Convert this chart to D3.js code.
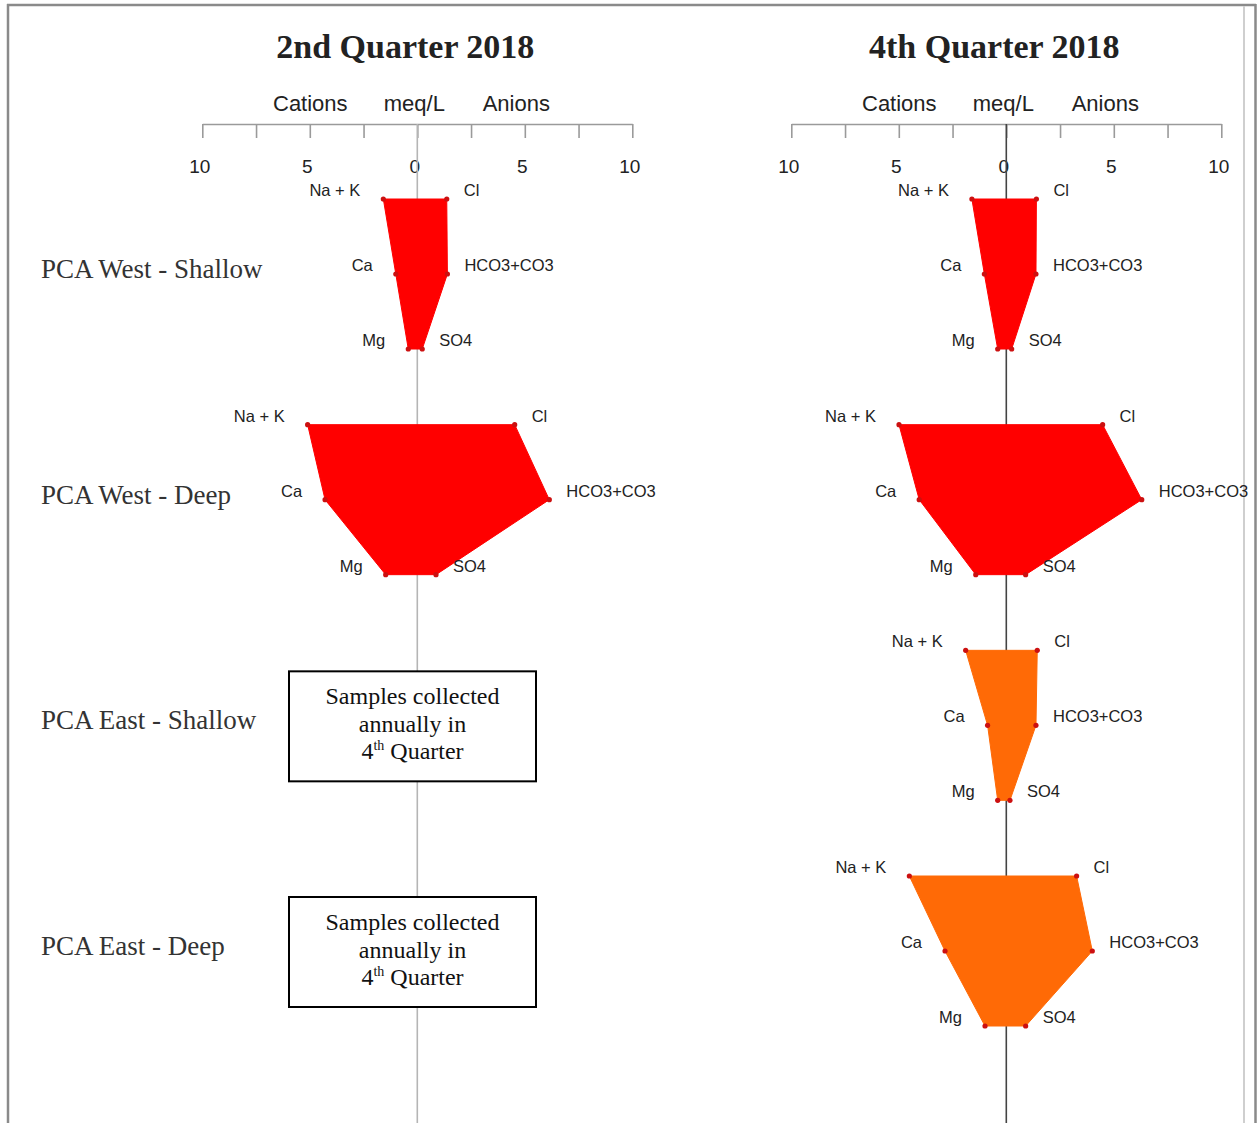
<!DOCTYPE html>
<html>
<head>
<meta charset="utf-8">
<script src="https://cdn.jsdelivr.net/npm/d3@7"></script>
<style>
  body { margin: 0; background: #fff; }
  .tick text { font-family: "Liberation Sans", Arial, sans-serif; font-size: 19px; fill: #222; }
  .axis path, .axis line { stroke: #9a9a9a; stroke-width: 1.6; }
  .ionLabel { font-family: "Liberation Sans", Arial, sans-serif; font-size: 16.5px; fill: #222; }
  .headLabel { font-family: "Liberation Sans", Arial, sans-serif; font-size: 22px; fill: #222; }
  .title { font-family: "Liberation Serif", "Times New Roman", serif; font-weight: bold; font-size: 34px; fill: #222; }
  .siteLabel { font-family: "Liberation Serif", "Times New Roman", serif; font-size: 27px; fill: #333; }
  .boxText { font-family: "Liberation Serif", "Times New Roman", serif; font-size: 24px; fill: #111; }
</style>
</head>
<body>
<script>
(function(){
    //data: milliequivalents per litre
    var sites = ["PCA West - Shallow", "PCA West - Deep", "PCA East - Shallow", "PCA East - Deep"];
    var siteColors = ["#ff0000", "#ff0000", "#ff6a06", "#ff6a06"];
    var cationNames = ["Na + K", "Ca", "Mg"];
    var anionNames = ["Cl", "HCO3+CO3", "SO4"];
    var quarters = ["2nd Quarter 2018", "4th Quarter 2018"];
    var headings = ["Cations", "meq/L", "Anions"];
    var tickValues = [-10, -7.5, -5, -2.5, 0, 2.5, 5, 7.5, 10];

    var q2Cations = [[1.58, 1.00, 0.42], [5.10, 4.29, 1.47], null, null];
    var q2Anions  = [[1.37, 1.40, 0.23], [4.53, 6.14, 0.87], null, null];
    var q4Cations = [[1.60, 1.02, 0.40], [4.99, 4.05, 1.42], [1.89, 0.87, 0.40], [4.51, 2.85, 0.99]];
    var q4Anions  = [[1.40, 1.38, 0.25], [4.48, 6.30, 0.90], [1.44, 1.38, 0.17], [3.27, 4.00, 0.90]];

    var boxLines = ["Samples collected", "annually in"];

    var width = 1257, height = 1123;

    var svg = d3.select("body").append("svg")
        .attr("width", width)
        .attr("height", height);

    //page frame
    var frame = svg.append("g").attr("class", "frame");
    frame.append("line").attr("x1", 7).attr("x2", 1256).attr("y1", 5).attr("y2", 5)
        .attr("stroke", "#8a8a8a").attr("stroke-width", 2.5);
    frame.append("line").attr("x1", 8).attr("x2", 8).attr("y1", 4).attr("y2", height)
        .attr("stroke", "#8a8a8a").attr("stroke-width", 2.5);
    frame.append("line").attr("x1", 1244).attr("x2", 1244).attr("y1", 6).attr("y2", height)
        .attr("stroke", "#cfcfcf").attr("stroke-width", 2);
    frame.append("line").attr("x1", 1255.5).attr("x2", 1255.5).attr("y1", 4).attr("y2", height)
        .attr("stroke", "#8a8a8a").attr("stroke-width", 2.5);

    //row positions
    var rowY = d3.scaleLinear().domain([0, 3]).range([199, 876]);
    var levelY = d3.scaleLinear().domain([0, 2]).range([0, 150]);

    //site labels on the left
    svg.selectAll(".siteLabel")
        .data(sites)
        .enter()
        .append("text")
        .attr("class", "siteLabel")
        .attr("x", 41)
        .attr("y", function(d, i){ return rowY(i) + levelY(1) + 4; })
        .text(function(d){ return d; });

    var panels = [
        {title: quarters[0], center: 417.3, cations: q2Cations, anions: q2Anions, lineColor: "#b5b5b5"},
        {title: quarters[1], center: 1006.3, cations: q4Cations, anions: q4Anions, lineColor: "#444"}
    ];

    panels.forEach(function(p){
        drawPanel(p);
    });

    function drawPanel(p){
        var g = svg.append("g");

        //x scale: cations plotted negative (left), anions positive (right)
        var x = d3.scaleLinear()
            .domain([-10, 10])
            .range([p.center - 215, p.center + 215]);

        g.append("text")
            .attr("class", "title")
            .attr("x", p.center - 12)
            .attr("y", 58)
            .attr("text-anchor", "middle")
            .text(p.title);

        var headOffsets = [-107, -3, 99];
        g.selectAll(".headLabel")
            .data(headings)
            .enter()
            .append("text")
            .attr("class", "headLabel")
            .attr("x", function(d, i){ return p.center + headOffsets[i]; })
            .attr("y", 111)
            .attr("text-anchor", "middle")
            .text(function(d){ return d; });

        var xAxis = d3.axisBottom(x)
            .tickValues(tickValues)
            .tickSize(14)
            .tickSizeOuter(0)
            .tickPadding(22)
            .tickFormat(function(d){ return d % 5 === 0 ? Math.abs(d) : ""; });

        g.append("g")
            .attr("class", "axis")
            .attr("transform", "translate(0,124)")
            .call(xAxis)
            .selectAll(".tick text")
            .attr("dx", -3);

        //centre line
        g.append("line")
            .attr("x1", x(0)).attr("x2", x(0))
            .attr("y1", 124).attr("y2", height)
            .attr("stroke", p.lineColor)
            .attr("stroke-width", 1.6);

        sites.forEach(function(site, i){
            var cat = p.cations[i], an = p.anions[i];
            var top = rowY(i);
            if (!cat){
                drawNote(g, p.center - 4.8, top + levelY(1) - 54);
                return;
            }
            var pts = [];
            cat.forEach(function(v, k){ pts.push([x(-v), top + levelY(k)]); });
            for (var k = an.length - 1; k >= 0; k--){ pts.push([x(an[k]), top + levelY(k)]); }

            g.append("polygon")
                .attr("points", pts.map(function(d){ return d.join(","); }).join(" "))
                .attr("fill", siteColors[i])
                .attr("stroke", siteColors[i])
                .attr("stroke-width", 1);

            g.selectAll(".dot" + i)
                .data(pts)
                .enter()
                .append("circle")
                .attr("cx", function(d){ return d[0]; })
                .attr("cy", function(d){ return d[1]; })
                .attr("r", 2.6)
                .attr("fill", "#cc1010");

            cationNames.forEach(function(name, k){
                g.append("text")
                    .attr("class", "ionLabel")
                    .attr("x", x(-cat[k]) - 23)
                    .attr("y", top + levelY(k) - 3)
                    .attr("text-anchor", "end")
                    .text(name);
            });
            anionNames.forEach(function(name, k){
                g.append("text")
                    .attr("class", "ionLabel")
                    .attr("x", x(an[k]) + 17)
                    .attr("y", top + levelY(k) - 3)
                    .text(name);
            });
        });
    }

    //note box for sites only sampled in the 4th quarter
    function drawNote(g, cx, y0){
        g.append("rect")
            .attr("x", cx - 123.5)
            .attr("y", y0)
            .attr("width", 247)
            .attr("height", 110)
            .attr("fill", "#fff")
            .attr("stroke", "#000")
            .attr("stroke-width", 2);

        boxLines.forEach(function(line, k){
            g.append("text")
                .attr("class", "boxText")
                .attr("x", cx)
                .attr("y", y0 + 33 + k * 27.5)
                .attr("text-anchor", "middle")
                .text(line);
        });

        var last = g.append("text")
            .attr("class", "boxText")
            .attr("x", cx)
            .attr("y", y0 + 88)
            .attr("text-anchor", "middle");
        last.append("tspan").text("4");
        last.append("tspan").attr("font-size", "14px").attr("dy", -9).text("th");
        last.append("tspan").attr("dy", 9).text(" Quarter");
    }
})();
</script>
</body>
</html>
